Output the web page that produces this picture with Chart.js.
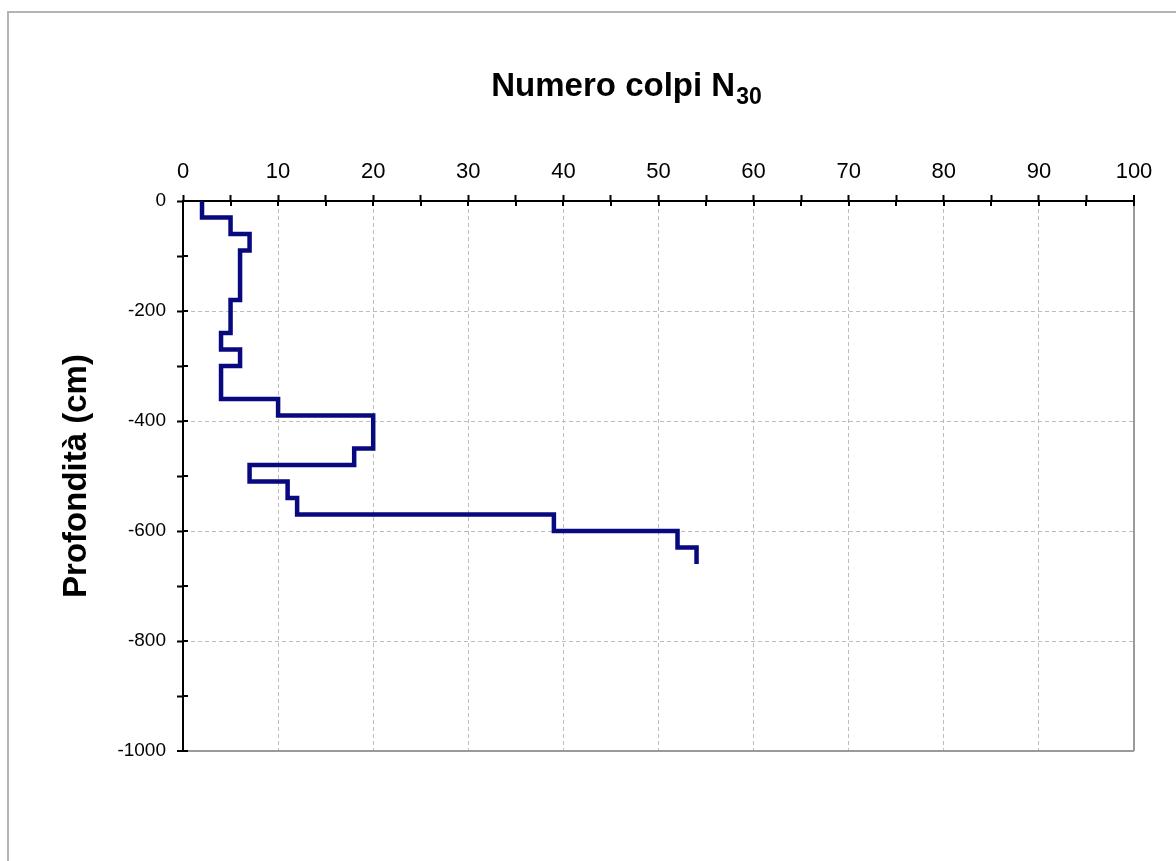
<!DOCTYPE html>
<html lang="it">
<head>
<meta charset="utf-8">
<title>Numero colpi N30</title>
<script src="https://cdn.jsdelivr.net/npm/chart.js@4/dist/chart.umd.min.js"></script>
<style>
  html, body { margin: 0; padding: 0; background: #fff; }
  #wrap { position: relative; width: 1176px; height: 861px; }
</style>
</head>
<body>
<div id="wrap">
  <canvas id="grafico" width="1176" height="861"></canvas>
</div>
<script>
// profondità (cm): limiti degli intervalli di 30 cm
const profondita = [0, 30, 60, 90, 120, 150, 180, 210, 240, 270, 300, 330,
  360, 390, 420, 450, 480, 510, 540, 570, 600, 630, 660];
// numero colpi N30 per ogni intervallo
const colpi = [2, 5, 7, 6, 6, 6, 5, 5, 4, 6, 4, 4,
  10, 20, 20, 18, 7, 11, 12, 39, 52, 54];

// etichette degli assi
const tickColpi = [0, 10, 20, 30, 40, 50, 60, 70, 80, 90, 100];
const tickProfondita = [0, -200, -400, -600, -800, -1000];

const FONT = "'Liberation Sans', Arial, sans-serif";

// ============================================
// punti del diagramma a gradini
// ============================================
const punti = [];
colpi.forEach((n, i) => {
  punti.push({ x: n, y: -profondita[i] });
  punti.push({ x: n, y: -profondita[i + 1] });
});

// titolo con pedice + cornice + tacche interne
const extraPlugin = {
  id: 'extra',
  beforeDraw(chart) {
    const ctx = chart.ctx;
    ctx.save();
    ctx.strokeStyle = '#b4b4b4';
    ctx.lineWidth = 2;
    ctx.beginPath();
    ctx.moveTo(8, 861);
    ctx.lineTo(8, 12);
    ctx.lineTo(1176, 12);
    ctx.stroke();
    ctx.restore();
  },
  afterDraw(chart) {
    const ctx = chart.ctx;
    const area = chart.chartArea;
    const sx = chart.scales.x;
    const sy = chart.scales.y;

    // tacche verso l'interno
    ctx.save();
    ctx.strokeStyle = '#000';
    ctx.lineWidth = 2;
    ctx.beginPath();
    sx.ticks.forEach(t => {
      const px = Math.round(sx.getPixelForValue(t.value));
      ctx.moveTo(px, area.top);
      ctx.lineTo(px, area.top + 5);
    });
    sy.ticks.forEach(t => {
      const py = Math.round(sy.getPixelForValue(t.value));
      ctx.moveTo(area.left, py);
      ctx.lineTo(area.left + 5, py);
    });
    ctx.stroke();

    // titolo asse x
    const main = 'Numero colpi N';
    const sub = '30';
    ctx.fillStyle = '#000';
    ctx.textBaseline = 'alphabetic';
    ctx.font = 'bold 33px ' + FONT;
    const w1 = ctx.measureText(main).width;
    ctx.font = 'bold 23px ' + FONT;
    const w2 = ctx.measureText(sub).width;
    const x0 = 626 - (w1 + w2) / 2;
    ctx.font = 'bold 33px ' + FONT;
    ctx.fillText(main, x0, 96);
    ctx.font = 'bold 23px ' + FONT;
    ctx.fillText(sub, x0 + w1 + 1, 104);
    ctx.restore();
  }
};

const chart = new Chart(document.getElementById('grafico'), {
  type: 'scatter',
  data: {
    datasets: [{
      label: 'N30',
      data: punti,
      showLine: true,
      borderColor: '#08087f',
      borderWidth: 4.5,
      pointRadius: 0,
      borderJoinStyle: 'miter',
      fill: false,
    }]
  },
  options: {
    responsive: false,
    animation: false,
    layout: { padding: { left: 0, top: 0, right: 42, bottom: 110 } },
    plugins: {
      legend: { display: false },
      tooltip: { enabled: false },
    },
    scales: {
      x: {
        type: 'linear',
        position: 'top',
        min: 0,
        max: 100,
        afterFit: s => { s.height = 201; },
        ticks: {
          stepSize: 5,
          autoSkip: false,
          maxRotation: 0,
          padding: 10,
          color: '#000',
          font: { family: FONT, size: 22 },
          callback: v => tickColpi.includes(v) ? v : '',
        },
        grid: {
          color: c => {
            const v = c.tick ? c.tick.value : 0;
            if (v === 0 || v % 10 !== 0) return 'transparent';
            return v === 100 ? '#9a9a9a' : '#bdbdbd';
          },
          lineWidth: c => (c.tick && c.tick.value === 100) ? 2 : 1,
          tickLength: 6,
          tickColor: '#000',
          tickWidth: 2,
        },
        border: {
          color: '#000',
          width: 2,
          dash: c => (c.tick && c.tick.value !== 100) ? [4, 3] : [],
        },
      },
      y: {
        type: 'linear',
        min: -1000,
        max: 0,
        afterFit: s => { s.width = 183; },
        title: {
          display: true,
          text: 'Profondità (cm)',
          color: '#000',
          font: { family: FONT, size: 33, weight: 'bold' },
          padding: { top: 57, bottom: 0 },
        },
        ticks: {
          stepSize: 100,
          autoSkip: false,
          padding: 11,
          color: '#000',
          font: { family: FONT, size: 19 },
          callback: v => tickProfondita.includes(v) ? v : '',
        },
        grid: {
          color: c => {
            const v = c.tick ? c.tick.value : 0;
            if (v === 0 || v % 200 !== 0) return 'transparent';
            return v === -1000 ? '#9a9a9a' : '#bdbdbd';
          },
          lineWidth: c => (c.tick && c.tick.value === -1000) ? 2 : 1,
          tickLength: 6,
          tickColor: '#000',
          tickWidth: 2,
        },
        border: {
          color: '#000',
          width: 2,
          dash: c => (c.tick && c.tick.value !== -1000) ? [4, 3] : [],
        },
      },
    },
  },
  plugins: [extraPlugin],
});
</script>
</body>
</html>
